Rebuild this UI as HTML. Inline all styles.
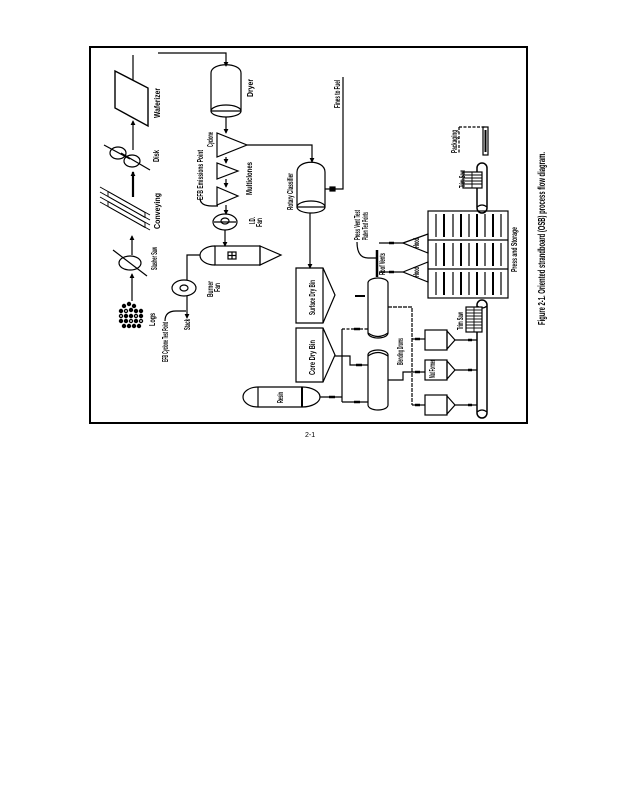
<!DOCTYPE html>
<html><head><meta charset="utf-8">
<style>html,body{margin:0;padding:0;background:#fff}svg{display:block}
text{font-family:"Liberation Sans",sans-serif;fill:#000}</style>
</head><body>
<svg width="619" height="800" viewBox="0 0 619 800" xmlns="http://www.w3.org/2000/svg">
<defs>
<marker id="a" viewBox="0 0 6 6" refX="5" refY="3" markerWidth="5" markerHeight="5" orient="auto" markerUnits="userSpaceOnUse"><path d="M0,0 L6,3 L0,6 z" fill="#000"/></marker>
</defs>
<rect width="619" height="800" fill="#fff"/>
<g fill="none" stroke="#000" stroke-width="1.2">
<!-- border -->
<rect x="90" y="47" width="437" height="376" stroke-width="2"/>

<!-- left chain -->
<line x1="132" y1="301" x2="132" y2="274" marker-end="url(#a)"/>
<ellipse cx="130" cy="263" rx="11" ry="7"/>
<line x1="113" y1="250" x2="147" y2="276"/>
<line x1="132" y1="255" x2="132" y2="236" marker-end="url(#a)"/>
<!-- conveying -->
<g stroke-width="0.9">
<line x1="100" y1="187" x2="150" y2="215"/>
<line x1="100" y1="192" x2="150" y2="220"/>
<line x1="100" y1="197" x2="150" y2="225"/>
<line x1="100" y1="202" x2="150" y2="230"/>
<polygon points="108,191.5 145,212.5 145,217.5 108,196.5"/>
<polygon points="108,201.5 145,222.5 145,227.5 108,206.5"/>
</g>
<line x1="133" y1="197" x2="133" y2="172" stroke-width="2.2" marker-end="url(#a)"/>
<!-- disk -->
<ellipse cx="118" cy="153" rx="8" ry="6"/>
<ellipse cx="132" cy="161" rx="8" ry="6"/>
<line x1="104" y1="145" x2="130" y2="159"/>
<line x1="121" y1="153" x2="150" y2="170"/>
<line x1="133" y1="150" x2="133" y2="121" marker-end="url(#a)"/>
<!-- waferizer -->
<polygon points="115,71 148,88 148,126 115,108" stroke-width="1.4"/>
<line x1="133" y1="55" x2="133" y2="80"/>
<polyline points="158,53 226,53 226,66" marker-end="url(#a)"/>

<!-- dryer -->
<path d="M211,73 C211,62 241,62 241,73 L241,111 L211,111 Z"/>
<ellipse cx="226" cy="111" rx="15" ry="6"/>
<line x1="226" y1="117" x2="226" y2="133" marker-end="url(#a)"/>
<!-- cyclone -->
<polygon points="217,133 217,157 247,145"/>
<polyline points="247,145 312,145 312,162" marker-end="url(#a)"/>
<line x1="226" y1="157" x2="226" y2="163" marker-end="url(#a)"/>
<polygon points="217,163 217,179 238,171"/>
<line x1="226" y1="179" x2="226" y2="187" marker-end="url(#a)"/>
<polygon points="217,187 217,205 238,196"/>
<line x1="226" y1="205" x2="226" y2="214" marker-end="url(#a)"/>
<path d="M200,198 Q200,206 212,206 L218,206"/>
<!-- ID fan -->
<ellipse cx="225" cy="222" rx="12" ry="8"/>
<line x1="214" y1="222" x2="236" y2="222"/>
<ellipse cx="225" cy="221" rx="4" ry="3"/>
<line x1="225" y1="230" x2="225" y2="246" marker-end="url(#a)"/>
<!-- energy system -->
<path d="M215,246 A15,9.5 0 0 0 215,265"/>
<rect x="215" y="246" width="45" height="19"/>
<polygon points="260,246 281,255 260,265"/>
<rect x="228" y="252" width="8" height="7"/>
<line x1="232" y1="252" x2="232" y2="259"/>
<line x1="228" y1="255.5" x2="236" y2="255.5"/>
<!-- burner fan -->
<ellipse cx="184" cy="288" rx="12" ry="8"/>
<ellipse cx="184" cy="288" rx="4" ry="3"/>
<polyline points="187,280 187,255 200,255"/>
<line x1="187" y1="296" x2="187" y2="318" marker-end="url(#a)"/>
<path d="M165,321 Q165,311 176,311 L186,311"/>

<!-- rotary classifier -->
<path d="M297,172 C297,159 325,159 325,172 L325,207 L297,207 Z"/>
<ellipse cx="311" cy="207" rx="14" ry="6"/>
<line x1="310" y1="213" x2="310" y2="268" marker-end="url(#a)"/>
<polyline points="325,189 343,189 343,77"/>
<rect x="330" y="187" width="5" height="4" fill="#000"/>

<!-- dry bins -->
<path d="M296,268 H323 L335,295 L323,323 H296 Z"/>
<line x1="323" y1="268" x2="323" y2="323"/>
<path d="M296,328 H323 L335,355 L323,382 H296 Z"/>
<line x1="323" y1="328" x2="323" y2="382"/>
<!-- resin -->
<path d="M258,387 L302,387 A18,10 0 0 1 302,407 L258,407 A15,10 0 0 1 258,387 Z"/>
<line x1="258" y1="387" x2="258" y2="407"/>
<line x1="302" y1="387" x2="302" y2="407" stroke-width="2"/>

<!-- blending lines -->
<polyline points="335,356 350,356 350,365 368,365"/>
<line x1="342" y1="329" x2="342" y2="402"/>
<line x1="342" y1="329" x2="368" y2="329" stroke-dasharray="3,1.5"/>
<line x1="342" y1="402" x2="368" y2="402"/>
<line x1="320" y1="397" x2="342" y2="397"/>
<line x1="355" y1="296" x2="365" y2="296" stroke-width="2"/>
<line x1="354" y1="329" x2="360" y2="329" stroke-width="2.5"/>
<line x1="356" y1="365" x2="362" y2="365" stroke-width="2.5"/>
<line x1="354" y1="402" x2="360" y2="402" stroke-width="2.5"/>
<line x1="329" y1="397" x2="335" y2="397" stroke-width="2.5"/>
<!-- blenders -->
<rect x="368" y="278" width="20" height="60" rx="10" ry="5"/>
<path d="M368,333 Q378,340 388,333" />
<rect x="368" y="350" width="20" height="60" rx="10" ry="5"/>
<path d="M368,356 Q378,349 388,356" />
<!-- blender outputs -->
<polyline points="388,307 412,307 412,405" stroke-dasharray="4,1"/>
<line x1="412" y1="339" x2="425" y2="339"/>
<line x1="412" y1="405" x2="425" y2="405"/>
<polyline points="388,380 403,380 403,372 425,372"/>
<line x1="415" y1="339" x2="420" y2="339" stroke-width="2.5"/>
<line x1="415" y1="372" x2="420" y2="372" stroke-width="2.5"/>
<line x1="415" y1="405" x2="420" y2="405" stroke-width="2.5"/>
<!-- formers -->
<rect x="425" y="330" width="22" height="20"/>
<polygon points="447,331 455,340 447,349"/>
<rect x="425" y="360" width="22" height="20"/>
<polygon points="447,361 455,370 447,379"/>
<rect x="425" y="395" width="22" height="20"/>
<polygon points="447,396 455,405 447,414"/>
<line x1="455" y1="340" x2="477" y2="340"/>
<line x1="455" y1="370" x2="477" y2="370"/>
<line x1="455" y1="405" x2="477" y2="405"/>
<line x1="468" y1="340" x2="472" y2="340" stroke-width="2.5"/>
<line x1="468" y1="370" x2="472" y2="370" stroke-width="2.5"/>
<line x1="468" y1="405" x2="472" y2="405" stroke-width="2.5"/>
<!-- lower conveyor -->
<rect x="477" y="300" width="10" height="118" rx="5" ry="5" stroke-width="1.5"/>
<path d="M477,306 Q482,310 487,306"/>
<path d="M477,412 Q482,408 487,412"/>
<!-- lower trim saw -->
<rect x="466" y="307" width="16" height="25" fill="#fff"/>
<g stroke-width="0.9">
<line x1="466" y1="310" x2="482" y2="310"/><line x1="466" y1="313" x2="482" y2="313"/>
<line x1="466" y1="316" x2="482" y2="316"/><line x1="466" y1="319" x2="482" y2="319"/>
<line x1="466" y1="322" x2="482" y2="322"/><line x1="466" y1="325" x2="482" y2="325"/>
<line x1="466" y1="328" x2="482" y2="328"/>
<line x1="474" y1="307" x2="474" y2="332"/>
</g>
<!-- press -->
<rect x="428" y="211" width="80" height="87"/>
<line x1="428" y1="240" x2="508" y2="240"/>
<line x1="428" y1="269" x2="508" y2="269"/>
<g>
<line x1="436" y1="214" x2="436" y2="237"/><line x1="444" y1="214" x2="444" y2="237" stroke-width="2"/>
<line x1="453" y1="214" x2="453" y2="237"/><line x1="461" y1="214" x2="461" y2="237" stroke-width="2"/>
<line x1="469" y1="214" x2="469" y2="237"/><line x1="477" y1="214" x2="477" y2="237" stroke-width="2"/>
<line x1="485" y1="214" x2="485" y2="237"/><line x1="493" y1="214" x2="493" y2="237" stroke-width="2"/>
<line x1="501" y1="214" x2="501" y2="237"/>
<line x1="436" y1="243" x2="436" y2="266"/><line x1="444" y1="243" x2="444" y2="266" stroke-width="2"/>
<line x1="453" y1="243" x2="453" y2="266"/><line x1="461" y1="243" x2="461" y2="266" stroke-width="2"/>
<line x1="469" y1="243" x2="469" y2="266"/><line x1="477" y1="243" x2="477" y2="266" stroke-width="2"/>
<line x1="485" y1="243" x2="485" y2="266"/><line x1="493" y1="243" x2="493" y2="266" stroke-width="2"/>
<line x1="501" y1="243" x2="501" y2="266"/>
<line x1="436" y1="272" x2="436" y2="295"/><line x1="444" y1="272" x2="444" y2="295" stroke-width="2"/>
<line x1="453" y1="272" x2="453" y2="295"/><line x1="461" y1="272" x2="461" y2="295" stroke-width="2"/>
<line x1="469" y1="272" x2="469" y2="295"/><line x1="477" y1="272" x2="477" y2="295" stroke-width="2"/>
<line x1="485" y1="272" x2="485" y2="295"/><line x1="493" y1="272" x2="493" y2="295" stroke-width="2"/>
<line x1="501" y1="272" x2="501" y2="295"/>
</g>
<!-- upper conveyor -->
<rect x="477" y="163" width="10" height="50" rx="5" ry="5" stroke-width="1.5"/>
<path d="M477,207 Q482,203 487,207"/>
<rect x="463" y="172" width="19" height="16" fill="#fff"/>
<g stroke-width="0.9">
<line x1="463" y1="175" x2="482" y2="175"/><line x1="463" y1="178" x2="482" y2="178"/>
<line x1="463" y1="181" x2="482" y2="181"/><line x1="463" y1="184" x2="482" y2="184"/>
<line x1="472" y1="172" x2="472" y2="188"/>
</g>
<!-- packaging -->
<line x1="459" y1="127" x2="485" y2="127" stroke-dasharray="3,1.5"/>
<line x1="459" y1="127" x2="459" y2="153" stroke-dasharray="3,1.5"/>
<rect x="483" y="127" width="5" height="28"/>
<line x1="485.5" y1="130" x2="485.5" y2="152" stroke-width="2"/>
<!-- roof vents / hoods -->
<line x1="377" y1="250" x2="377" y2="277" stroke-width="2.5"/>
<path d="M357,242 Q357,258 368,258 L376,258"/>
<polygon points="403,243 428,234 428,253"/>
<polygon points="403,272 428,262 428,282"/>
<line x1="379" y1="243" x2="403" y2="243"/>
<line x1="379" y1="272" x2="403" y2="272"/>
<line x1="389" y1="243" x2="394" y2="243" stroke-width="2.5"/>
<line x1="389" y1="272" x2="394" y2="272" stroke-width="2.5"/>
</g>

<!-- logs -->
<g fill="#000" stroke="none">
<circle cx="124" cy="306" r="2.2"/><circle cx="129" cy="304" r="2.2"/><circle cx="134" cy="306" r="2.2"/>
<circle cx="121" cy="311" r="2.2"/><circle cx="126" cy="311" r="2.2"/><circle cx="131" cy="310" r="2.2"/><circle cx="136" cy="311" r="2.2"/><circle cx="141" cy="311" r="2.2"/>
<circle cx="121" cy="316" r="2.2"/><circle cx="126" cy="316" r="2.2"/><circle cx="131" cy="316" r="2.2"/><circle cx="136" cy="316" r="2.2"/><circle cx="141" cy="316" r="2.2"/>
<circle cx="121" cy="321" r="2.2"/><circle cx="126" cy="321" r="2.2"/><circle cx="131" cy="321" r="2.2"/><circle cx="136" cy="321" r="2.2"/><circle cx="141" cy="321" r="2.2"/>
<circle cx="124" cy="326" r="2.2"/><circle cx="129" cy="326" r="2.2"/><circle cx="134" cy="326" r="2.2"/><circle cx="139" cy="326" r="2.2"/>
</g>
<g fill="#fff" stroke="none">
<circle cx="126" cy="311" r="0.9"/><circle cx="136" cy="316" r="0.9"/><circle cx="131" cy="321" r="0.9"/><circle cx="121" cy="316" r="0.9"/><circle cx="141" cy="321" r="0.9"/>
</g>

<!-- labels -->
<g font-size="8" font-weight="bold">
<text transform="translate(160,118) rotate(-90)" textLength="30" lengthAdjust="spacingAndGlyphs">Waferizer</text>
<text transform="translate(253,97) rotate(-90)" textLength="18" lengthAdjust="spacingAndGlyphs">Dryer</text>
<text transform="translate(159,162) rotate(-90)" textLength="12" lengthAdjust="spacingAndGlyphs">Disk</text>
<text transform="translate(160,229) rotate(-90)" textLength="36" lengthAdjust="spacingAndGlyphs">Conveying</text>
<text transform="translate(157,270) rotate(-90)" textLength="23" lengthAdjust="spacingAndGlyphs">Slasher Saw</text>
<text transform="translate(155,326) rotate(-90)" textLength="13" lengthAdjust="spacingAndGlyphs">Logs</text>
<text transform="translate(168,362) rotate(-90)" textLength="40" lengthAdjust="spacingAndGlyphs">EFB Cyclone Test Point</text>
<text transform="translate(190,330) rotate(-90)" textLength="11" lengthAdjust="spacingAndGlyphs">Stack</text>
<text transform="translate(213,297) rotate(-90)" textLength="16" lengthAdjust="spacingAndGlyphs">Burner</text>
<text transform="translate(220,292) rotate(-90)" textLength="9" lengthAdjust="spacingAndGlyphs">Fan</text>
<text transform="translate(315,315) rotate(-90)" textLength="35" lengthAdjust="spacingAndGlyphs">Surface Dry Bin</text>
<text transform="translate(315,375) rotate(-90)" textLength="35" lengthAdjust="spacingAndGlyphs">Core Dry Bin</text>
<text transform="translate(283,403) rotate(-90)" textLength="11" lengthAdjust="spacingAndGlyphs">Resin</text>
<text transform="translate(293,210) rotate(-90)" textLength="37" lengthAdjust="spacingAndGlyphs">Rotary Classifier</text>
<text transform="translate(255,224) rotate(-90)" textLength="7" lengthAdjust="spacingAndGlyphs">I.D.</text>
<text transform="translate(262,227) rotate(-90)" textLength="9" lengthAdjust="spacingAndGlyphs">Fan</text>
<text transform="translate(252,195) rotate(-90)" textLength="33" lengthAdjust="spacingAndGlyphs">Multiclones</text>
<text transform="translate(213,147) rotate(-90)" textLength="15" lengthAdjust="spacingAndGlyphs">Cyclone</text>
<text transform="translate(203,200) rotate(-90)" textLength="50" lengthAdjust="spacingAndGlyphs">EFB Emissions Point</text>
<text transform="translate(340,108) rotate(-90)" textLength="28" lengthAdjust="spacingAndGlyphs">Fines to Fuel</text>
<text transform="translate(360,240) rotate(-90)" textLength="30" lengthAdjust="spacingAndGlyphs">Press Vent Test</text>
<text transform="translate(368,240) rotate(-90)" textLength="28" lengthAdjust="spacingAndGlyphs">Platen Test Points</text>
<text transform="translate(385,275) rotate(-90)" textLength="22" lengthAdjust="spacingAndGlyphs">Roof Vents</text>
<text transform="translate(419,248) rotate(-90)" textLength="10" lengthAdjust="spacingAndGlyphs">Hood</text>
<text transform="translate(419,277) rotate(-90)" textLength="10" lengthAdjust="spacingAndGlyphs">Hood</text>
<text transform="translate(403,365) rotate(-90)" textLength="27" lengthAdjust="spacingAndGlyphs">Blending Drums</text>
<text transform="translate(435,378) rotate(-90)" textLength="18" lengthAdjust="spacingAndGlyphs">Mat Former</text>
<text transform="translate(463,330) rotate(-90)" textLength="18" lengthAdjust="spacingAndGlyphs">Trim Saw</text>
<text transform="translate(465,188) rotate(-90)" textLength="18" lengthAdjust="spacingAndGlyphs">Trim Saw</text>
<text transform="translate(457,153) rotate(-90)" textLength="23" lengthAdjust="spacingAndGlyphs">Packaging</text>
<text transform="translate(517,272) rotate(-90)" textLength="45" lengthAdjust="spacingAndGlyphs">Press and Storage</text>
</g>
<text transform="translate(545,325) rotate(-90)" font-size="10" font-weight="600" textLength="173" lengthAdjust="spacingAndGlyphs">Figure 2-1. Oriented strandboard (OSB) process flow diagram.</text>
<text x="305" y="437" font-size="7">2-1</text>
</svg>
</body></html>
